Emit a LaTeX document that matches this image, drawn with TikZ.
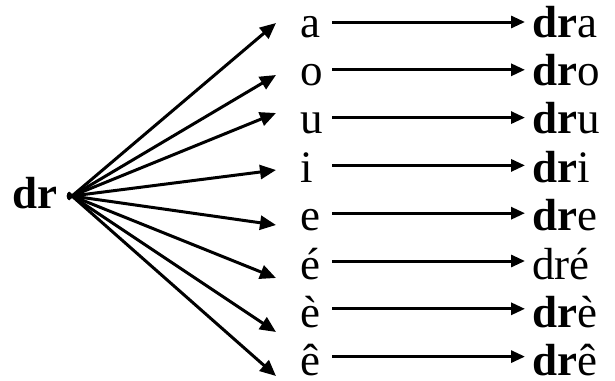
\documentclass[tikz,border=0pt]{standalone}
\usepackage{fontspec}
\setmainfont{Liberation Serif}
\usetikzlibrary{arrows.meta}

\begin{document}
\begin{tikzpicture}[
    x=1pt, y=-1pt,
    font=\fontsize{45}{50}\selectfont,
    vowel/.style={anchor=base west, inner sep=0pt, text width=32pt, align=left},
    result/.style={anchor=base west, inner xsep=7pt, inner ysep=0pt},
    fan/.style={-{Triangle[length=16pt,width=14pt]}, line width=3pt, shorten <=-5pt},
    map/.style={-{Triangle[length=14pt,width=12pt]}, line width=3pt}
]
\useasboundingbox (0,0) rectangle (615,380);

% racine
\node[anchor=base east, inner sep=0pt] (dr) at (58,208) {\textbf{dr}};
\coordinate (src) at (72,196);

% voyelles et syllabes
\foreach \vow/\syl/\ty [count=\k from 0] in {
    a/{\textbf{dr}a}/23, o/{\textbf{dr}o}/75, u/{\textbf{dr}u}/113,
    i/{\textbf{dr}i}/170, e/{\textbf{dr}e}/225, é/{dré}/278,
    è/{\textbf{dr}è}/332, ê/{\textbf{dr}ê}/376} {
    \node[vowel] (v\k) at ({300}, {37+48.4*\k}) {\vow};
    \node[result] (s\k) at ({525}, {37+48.4*\k}) {\syl};
    \coordinate (t\k) at (276, \ty);
    \draw[fan] (src) -- (t\k);
    \draw[map] ([yshift={15+0.6*\k}]v\k.base east) -- ([yshift={15+0.6*\k}]s\k.base west);
}

\end{tikzpicture}
\end{document}
